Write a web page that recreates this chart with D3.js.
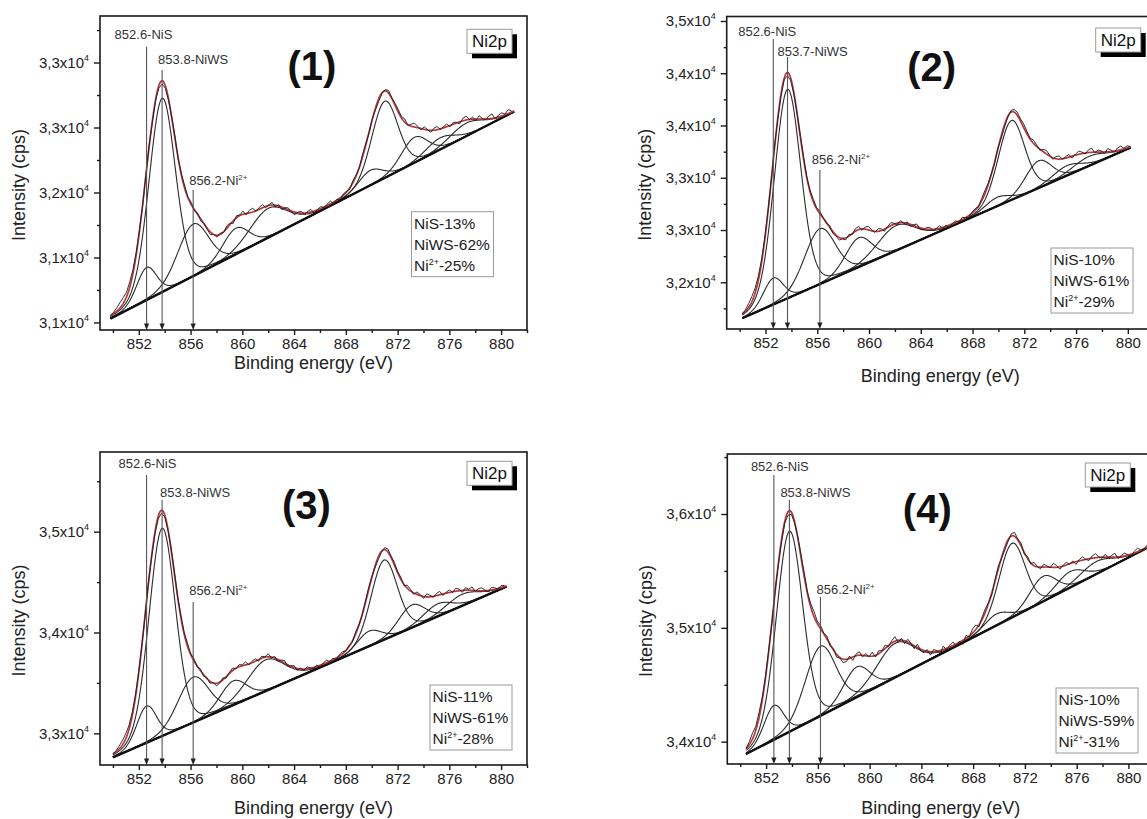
<!DOCTYPE html>
<html>
<head>
<meta charset="utf-8">
<script src="https://cdn.jsdelivr.net/npm/d3@7"></script>
<style>
  html, body { margin: 0; padding: 0; background: #fff; }
  svg { display: block; font-family: "Liberation Sans", Arial, sans-serif; }
</style>
</head>
<body>
<svg id="chart" width="1147" height="819"></svg>
<script>
// ---------- shared axis data ----------
const energyDomain = [849, 882];
const xTickValues = [852, 856, 860, 864, 868, 872, 876, 880];
const xMinorValues = [850, 854, 858, 862, 866, 870, 874, 878, 882];
const rawStep = 0.25;          // spacing of the measured spectrum (eV)
const lorentzShare = 0.12;     // Gaussian-Lorentzian mix of the fitted components

// ---------- sample (1) ----------
const p1Centers = [852.6, 853.8, 856.2, 859.5, 862.0, 869.9, 871.0, 873.3, 875.3, 877.3];
const p1Heights = [250, 1490, 400, 200, 225, 115, 590, 195, 90, 100];
const p1Widths  = [1.8, 2.4, 2.8, 2.4, 3.4, 2.2, 2.4, 2.4, 2.6, 3.0];
const p1Baseline = [[849.8, 31030], [881.0, 32622]];
const p1Residual = [0, 10, 25, 40, 45, 35, 40, 30, 20,
  15, -10, 5, 10, -15, -5, -20, -25,
  -20, -10, 5, 15, -5, 10, 20, 5,
  15, -5, 10, -15, 5, -10, -20, 0,
  -15, 10, -5, 20, 10, -20, 15, 5, 25, -10, 20, 30, -5, 15, 25, -10, 5, 20, -15, 10, -20, 5, 15, -10,
  -20, 5, 15, -10, 10, 20, -15, 0, 15, -5, 10, 20, -10, 5, -15, 10,
  5, -10, 15, 5, -5, 20, 10, -5, 5, -15, -20, -5, 10, 20, 5, 15,
  20, 10, 25, -5, 15, 30, 10, -10, 20, 5, -15, 15, 25, -5, 10, 20, -10, 15, 5, -15, 20, 30, 0, 15, -10, 25, 5, -5, 20, 35, -10, 15, 25, 5, 30, 10];
const p1YDomain = [30942, 33358];
const p1YTicks = [31000, 31500, 32000, 32500, 33000];
const p1YTickLabels = ["3,1", "3,1", "3,2", "3,3", "3,3"];
const p1YMinorStep = 250;
const p1Markers = [852.6, 853.8, 856.2];
const p1Species = ["NiS", "NiWS", "Ni2+"];
const p1Shares = [13, 62, 25];

// ---------- sample (2) ----------
const p2Centers = [852.6, 853.7, 856.2, 859.2, 862.1, 869.9, 871.0, 873.1, 875.3, 877.0];
const p2Heights = [253, 2000, 530, 280, 240, 85, 760, 260, 95, 90];
const p2Widths  = [1.8, 2.4, 2.8, 2.4, 3.4, 2.2, 2.4, 2.4, 2.6, 3.0];
const p2Baseline = [[850.2, 31656], [880.2, 33288]];
const p2Residual = [0, 15, 35, 50, 45, 40, 30, 20,
  10, -5, 15, -10, -20, -15, -30, -25,
  -15, 0, 10, 20, 5, 15, 25, 10,
  20, 5, -10, 15, -20, -10, -25, -5,
  -20, 15, -10, 25, 30, -15, 20, 35, 10, -10, 25, 15, -20, 10, 30, 5, -15, 20, -10, 15, -20, 10, 25, -15,
  -10, 15, 20, -15, 5, 25, -10, 10, -20, 5, 15, -10, 20, 0, -15, 10,
  15, -10, 20, 30, 15, 5, -10, 10, -20, -25, -10, 15, 25, 30, 20, 35,
  25, 10, 30, 15, -10, 20, 35, 10, -15, 20, 30, -5, 15, 25, -20, 10, 30, 15, -10, 25, 40, -5, 20, 10, -15, 30, 15, -10, 25, 35, 5, 20, 0];
const p2YDomain = [31553, 34543];
const p2YTicks = [32000, 32500, 33000, 33500, 34000, 34500];
const p2YTickLabels = ["3,2", "3,3", "3,3", "3,4", "3,4", "3,5"];
const p2YMinorStep = 250;
const p2Markers = [852.6, 853.7, 856.2];
const p2Species = ["NiS", "NiWS", "Ni2+"];
const p2Shares = [10, 61, 29];

// ---------- sample (3) ----------
const p3Centers = [852.6, 853.8, 856.2, 859.3, 861.8, 869.8, 870.95, 873.1, 875.1, 877.0];
const p3Heights = [364, 2060, 450, 240, 310, 150, 790, 225, 125, 115];
const p3Widths  = [1.8, 2.4, 2.8, 2.4, 3.4, 2.2, 2.4, 2.4, 2.6, 3.0];
const p3Baseline = [[850.0, 32762], [880.4, 34454]];
const p3Residual = [0, 10, 30, 45, 50, 40, 35, 25, 15,
  5, -10, 10, -15, -20, -25, -30, -20,
  -10, 10, 20, 5, 25, 15, 30, 10,
  20, -10, 15, -15, 10, -20, 5, -25,
  -10, 20, -15, 10, 25, -5, 20, 10, 30, -10, 15, 25, -15, 20, 5, 30, -10, 15, -20, 10, 25, -15, 5, 20,
  -20, 10, -15, 20, 5, -10, 15, -20, 10, 25, -5, 15, -15, 10, 20, -5,
  10, -10, 20, 5, -5, 15, 25, 10, -15, -25, -10, 20, 30, 15, 25, 10,
  20, -10, 30, 15, -15, 25, 10, -20, 30, 15, -10, 20, 35, -15, 10, 25, -5, 30, 15, -20, 25, 10, 35, -10, 20, 30, 5, -15, 25, 15, -5, 20, 10];
const p3YDomain = [32686, 35790];
const p3YTicks = [33000, 34000, 35000];
const p3YTickLabels = ["3,3", "3,4", "3,5"];
const p3YMinorStep = 500;
const p3Markers = [852.6, 853.8, 856.2];
const p3Species = ["NiS", "NiWS", "Ni2+"];
const p3Shares = [11, 61, 28];

// ---------- sample (4) ----------
const p4Centers = [852.6, 853.8, 856.2, 859.0, 862.0, 869.8, 871.0, 873.4, 875.5, 877.5];
const p4Heights = [300, 1760, 610, 265, 300, 100, 650, 220, 140, 110];
const p4Widths  = [1.8, 2.4, 2.8, 2.4, 3.4, 2.2, 2.4, 2.4, 2.6, 3.0];
const p4Baseline = [[850.45, 33892], [881.5, 35705]];
const p4Residual = [0, 25, 50, 35, 45, 30, 15,
  10, -15, 10, -10, -25, -15, -30, -20,
  -10, 10, 25, 35, 15, 30, 45, 20,
  30, 5, 25, -15, 10, -25, -5, -30,
  -20, 20, -30, 15, 30, -15, 20, -5, 35, -15, 25, 5, 30, -10, 20, 40, -20, 15, -25, 25, 5, -25, 30, -15,
  -20, 15, -30, 20, 5, -25, 30, -15, 15, 30, -20, 10, -35, 25, -10, 35,
  40, -15, 20, 30, 5, -20, 15, 25, -10, -25, -15, 20, 35, 10, 25, -15,
  20, -10, 30, 5, -15, 25, 10, -5, 35, 15, -20, 5, 25, -5, 15, -25, 10, 30, 0, -15, 20, 35, 5, -10, 25, -5, 15, 35, -15, 10, 25, 5, -20, 15, 30, 5, -5, 20];
const p4YDomain = [33804, 36527];
const p4YTicks = [34000, 35000, 36000];
const p4YTickLabels = ["3,4", "3,5", "3,6"];
const p4YMinorStep = 500;
const p4Markers = [852.6, 853.8, 856.2];
const p4Species = ["NiS", "NiWS", "Ni2+"];
const p4Shares = [10, 59, 31];

const sampleTags = ["(1)", "(2)", "(3)", "(4)"];
const shareSpecies = ["NiS", "NiWS", "Ni2+"];

// ---------- page layout (pixels) ----------
const layouts = [
  { left: 100,   top: 16,   width: 427, height: 314,   markTops: [30.7, 54, 174],  labelY: [18, 43, 164],    labelDx: [-32, -4, -4],
    tag: [212, 49.5], ni2p: [367, 13.3], legend: [311.5, 195.7], xTitleDy: 33 },
  { left: 726.7, top: 16.5, width: 427, height: 312.5, markTops: [22.5, 40.5, 153.5], labelY: [14.5, 35, 142.5], labelDx: [-35, -10, -8],
    tag: [205, 50],   ni2p: [369, 11.5], legend: [324.3, 231.5], xTitleDy: 47 },
  { left: 100,   top: 452,  width: 427, height: 313,   markTops: [23, 48, 150],    labelY: [11, 40, 138],    labelDx: [-28, -2, -4],
    tag: [206.5, 53], ni2p: [367, 9.3],  legend: [330, 233],     xTitleDy: 43 },
  { left: 727.3, top: 454,  width: 427, height: 310,   markTops: [21, 46, 143],    labelY: [12.5, 38, 135],  labelDx: [-23, -9, -4],
    tag: [200, 54.5], ni2p: [358, 9],    legend: [328.7, 234],   xTitleDy: 44 }
];

const panels = [
  { centers: p1Centers, heights: p1Heights, widths: p1Widths, baseline: p1Baseline, residual: p1Residual,
    yDomain: p1YDomain, yTicks: p1YTicks, yTickLabels: p1YTickLabels, yMinorStep: p1YMinorStep,
    markers: p1Markers, species: p1Species, shares: p1Shares },
  { centers: p2Centers, heights: p2Heights, widths: p2Widths, baseline: p2Baseline, residual: p2Residual,
    yDomain: p2YDomain, yTicks: p2YTicks, yTickLabels: p2YTickLabels, yMinorStep: p2YMinorStep,
    markers: p2Markers, species: p2Species, shares: p2Shares },
  { centers: p3Centers, heights: p3Heights, widths: p3Widths, baseline: p3Baseline, residual: p3Residual,
    yDomain: p3YDomain, yTicks: p3YTicks, yTickLabels: p3YTickLabels, yMinorStep: p3YMinorStep,
    markers: p3Markers, species: p3Species, shares: p3Shares },
  { centers: p4Centers, heights: p4Heights, widths: p4Widths, baseline: p4Baseline, residual: p4Residual,
    yDomain: p4YDomain, yTicks: p4YTicks, yTickLabels: p4YTickLabels, yMinorStep: p4YMinorStep,
    markers: p4Markers, species: p4Species, shares: p4Shares }
];

// ---------- helpers ----------
// pseudo-Voigt line shape used for every fitted component
function peak(E, c, h, w) {
  const u = (E - c) / w;
  return h * ((1 - lorentzShare) * Math.exp(-4 * Math.LN2 * u * u) + lorentzShare / (1 + 4 * u * u));
}

// writes "Ni" + superscript "2+" when the species carries a charge
function speciesText(sel, species, prefix, suffix, supSize, supDy) {
  sel.text(null);
  const m = species.match(/^(.*?)(\d\+)$/);
  if (prefix) sel.append("tspan").text(prefix);
  if (m) {
    sel.append("tspan").text(m[1]);
    sel.append("tspan").attr("font-size", supSize).attr("dy", -supDy).text(m[2]);
    if (suffix) sel.append("tspan").attr("dy", supDy).text(suffix);
  } else {
    sel.append("tspan").text(species + (suffix || ""));
  }
}

const svg = d3.select("#chart");
const red = "#b8373d";

panels.forEach((p, k) => {
  const L = layouts[k];
  const g = svg.append("g").attr("transform", `translate(${L.left},${L.top})`);

  const x = d3.scaleLinear().domain(energyDomain).range([0, L.width]);
  const y = d3.scaleLinear().domain(p.yDomain).range([L.height, 0]);

  const [b0, b1] = p.baseline;
  const base = E => b0[1] + (E - b0[0]) * (b1[1] - b0[1]) / (b1[0] - b0[0]);
  const envelope = E => base(E) + d3.sum(p.centers, (c, i) => peak(E, c, p.heights[i], p.widths[i]));
  const fine = d3.range(b0[0], b1[0] + 1e-9, 0.05);
  const line = d3.line().x(d => x(d[0])).y(d => y(d[1]));

  // fitted components
  p.centers.forEach((c, i) => {
    g.append("path")
      .attr("d", line(fine.map(E => [E, base(E) + peak(E, c, p.heights[i], p.widths[i])])))
      .attr("fill", "none").attr("stroke", "#2a2a2a").attr("stroke-width", 1.1);
  });

  // background line
  g.append("path").attr("d", line([b0, b1]))
    .attr("fill", "none").attr("stroke", "#111").attr("stroke-width", 2.4);

  // fit envelope
  g.append("path").attr("d", line(fine.map(E => [E, envelope(E)])))
    .attr("fill", "none").attr("stroke", red).attr("stroke-width", 1.7);

  // measured spectrum
  const rawE = d3.range(b0[0], b1[0] + 1e-9, rawStep);
  g.append("path").attr("d", line(rawE.map((E, i) => [E, envelope(E) + (p.residual[i] || 0)])))
    .attr("fill", "none").attr("stroke", "#1c1c1c").attr("stroke-width", 0.9);

  // frame
  g.append("rect").attr("width", L.width).attr("height", L.height)
    .attr("fill", "none").attr("stroke", "#1a1a1a").attr("stroke-width", 1.6);

  // x axis
  const xAxis = g.append("g").attr("transform", `translate(0,${L.height})`)
    .call(d3.axisBottom(x).tickValues(xTickValues).tickSize(5).tickPadding(3).tickFormat(d3.format("d")));
  g.append("g").attr("transform", `translate(0,${L.height})`)
    .call(d3.axisBottom(x).tickValues(xMinorValues).tickSize(3).tickFormat(""))
    .call(s => s.select(".domain").remove())
    .selectAll("line").attr("stroke-width", 1.4).attr("stroke", "#1a1a1a");
  xAxis.select(".domain").remove();
  xAxis.selectAll("line").attr("stroke-width", 1.4).attr("stroke", "#1a1a1a");
  xAxis.selectAll("text").attr("font-size", 15).attr("font-family", "Liberation Sans, Arial, sans-serif")
    .attr("fill", "#222");

  // y axis
  const yAxis = g.append("g")
    .call(d3.axisLeft(y).tickValues(p.yTicks).tickSize(6).tickPadding(5).tickFormat(""));
  const minorVals = d3.range(Math.ceil(p.yDomain[0] / p.yMinorStep) * p.yMinorStep, p.yDomain[1], p.yMinorStep)
    .filter(v => !p.yTicks.includes(v));
  g.append("g")
    .call(d3.axisLeft(y).tickValues(minorVals).tickSize(3).tickFormat(""))
    .call(s => s.select(".domain").remove())
    .selectAll("line").attr("stroke-width", 1.4).attr("stroke", "#1a1a1a");
  yAxis.select(".domain").remove();
  yAxis.selectAll("line").attr("stroke-width", 1.4).attr("stroke", "#1a1a1a");
  yAxis.selectAll("text")
    .attr("font-size", 15).attr("font-family", "Liberation Sans, Arial, sans-serif").attr("fill", "#222")
    .each(function (d, i) {
      const t = d3.select(this);
      t.append("tspan").text(p.yTickLabels[i] + "x10");
      t.append("tspan").attr("font-size", 9).attr("dy", -7).text("4");
    });

  // axis titles
  g.append("text").attr("x", L.width / 2).attr("y", L.height + L.xTitleDy)
    .attr("text-anchor", "middle").attr("dominant-baseline", "central")
    .attr("font-size", 18).attr("fill", "#222").text("Binding energy (eV)");
  g.append("text")
    .attr("transform", `translate(-81.5,${L.height / 2 + 12}) rotate(-90)`)
    .attr("text-anchor", "middle").attr("dominant-baseline", "central")
    .attr("font-size", 18).attr("fill", "#222").text("Intensity (cps)");

  // peak markers with arrows
  p.markers.forEach((m, i) => {
    const xm = x(m);
    g.append("line").attr("x1", xm).attr("x2", xm)
      .attr("y1", L.markTops[i]).attr("y2", L.height - 5)
      .attr("stroke", "#555").attr("stroke-width", 1.1);
    g.append("path")
      .attr("d", `M${xm - 2.6},${L.height - 6.5}L${xm + 2.6},${L.height - 6.5}L${xm},${L.height}Z`)
      .attr("fill", "#222");
    const t = g.append("text").attr("x", xm + L.labelDx[i]).attr("y", L.labelY[i])
      .attr("dy", "0.35em").attr("font-size", 13).attr("fill", "#333");
    speciesText(t, p.species[i], m.toFixed(1) + "-", "", 8, 5);
  });

  // sample tag
  g.append("text").attr("x", L.tag[0]).attr("y", L.tag[1])
    .attr("text-anchor", "middle").attr("dominant-baseline", "central")
    .attr("font-size", 40).attr("font-weight", "bold").attr("fill", "#111")
    .text(sampleTags[k]);

  // "Ni2p" box with drop shadow
  const nb = g.append("g").attr("transform", `translate(${L.ni2p[0]},${L.ni2p[1]})`);
  nb.append("rect").attr("x", 5).attr("y", 5).attr("width", 45).attr("height", 24).attr("fill", "#000");
  nb.append("rect").attr("width", 45).attr("height", 24).attr("fill", "#fff")
    .attr("stroke", "#9a9a9a").attr("stroke-width", 1);
  nb.append("text").attr("x", 22.5).attr("y", 12).attr("text-anchor", "middle")
    .attr("dominant-baseline", "central").attr("font-size", 17).attr("fill", "#111").text("Ni2p");

  // composition box
  const lg = g.append("g").attr("transform", `translate(${L.legend[0]},${L.legend[1]})`);
  lg.append("rect").attr("width", 82).attr("height", 65).attr("fill", "#fff")
    .attr("stroke", "#9a9a9a").attr("stroke-width", 1);
  p.shares.forEach((s, i) => {
    const t = lg.append("text").attr("x", 2.5).attr("y", 17 + 21 * i)
      .attr("font-size", 15.5).attr("fill", "#222");
    speciesText(t, shareSpecies[i], "", "-" + s + "%", 9, 6);
  });
});
</script>
</body>
</html>
